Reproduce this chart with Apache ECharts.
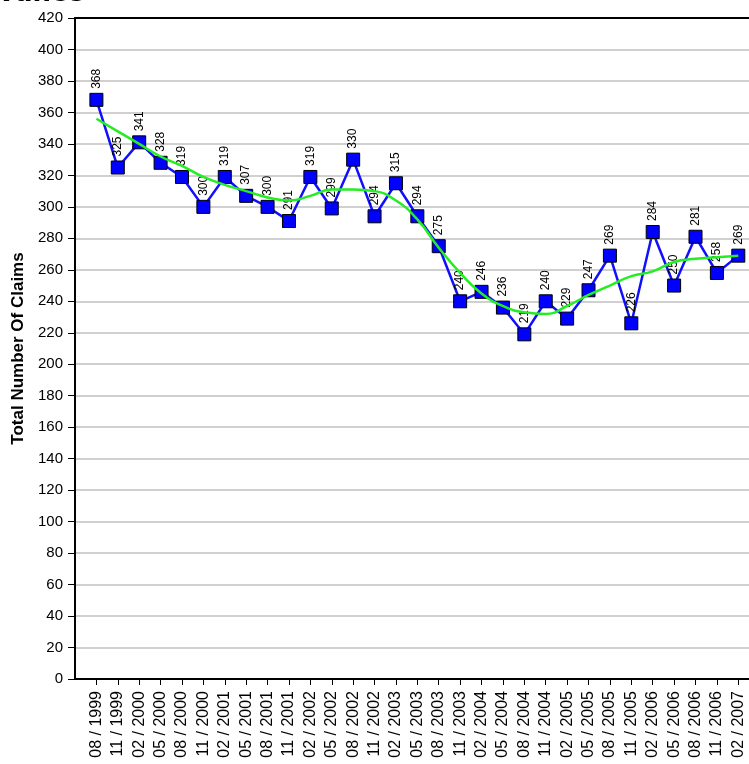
<!DOCTYPE html>
<html>
<head>
<meta charset="utf-8">
<script src="https://cdn.jsdelivr.net/npm/echarts@6/dist/echarts.min.js"></script>
<style>html,body{margin:0;padding:0;background:#fff}#c{width:749px;height:764px}</style>
</head>
<body>
<div id="c"></div>
<script>
var categories = ['08 / 1999','11 / 1999','02 / 2000','05 / 2000','08 / 2000','11 / 2000','02 / 2001','05 / 2001','08 / 2001','11 / 2001','02 / 2002','05 / 2002','08 / 2002','11 / 2002','02 / 2003','05 / 2003','08 / 2003','11 / 2003','02 / 2004','05 / 2004','08 / 2004','11 / 2004','02 / 2005','05 / 2005','08 / 2005','11 / 2005','02 / 2006','05 / 2006','08 / 2006','11 / 2006','02 / 2007'];
var claims = [368,325,341,328,319,300,319,307,300,291,319,299,330,294,315,294,275,240,246,236,219,240,229,247,269,226,284,250,281,258,269];
var trend = [356,348,340,332,326,319,314,310,306,304,307,311,311,310,304,292,274,258,245,237,233,232,237,244,250,256,259,265,267,268,269];
var titleText = 'vance';
var yAxisTitle = 'Total Number Of Claims';

var idx = categories.map(function(_, i){ return i; });
var chart = echarts.init(document.getElementById('c'), null, {renderer:'canvas'});
var font = 'Arial, "Liberation Sans", sans-serif';
chart.setOption({
  animation: false,
  backgroundColor: '#fff',
  title: {
    text: titleText, left: -2, top: -19, padding: 0,
    textStyle: {fontFamily: 'Verdana, "DejaVu Sans", sans-serif', fontWeight: 'bold', fontSize: 26, color: '#000'}
  },
  grid: {left: 75, right: 0, top: 18, bottom: 85, containLabel: false},
  xAxis: [{
    type: 'value', min: -1, max: 30.5, position: 'bottom',
    axisLine: {show: true, onZero: false, lineStyle: {color: '#000', width: 2}},
    axisTick: {show: true, length: 6, customValues: idx, lineStyle: {color: '#000', width: 1}},
    axisLabel: {
      show: true, rotate: 90, margin: 12, customValues: idx,
      fontFamily: font, fontSize: 16, color: '#000',
      formatter: function(v){ return categories[v] || ''; }
    },
    splitLine: {show: false}
  }, {
    type: 'value', min: -1, max: 30.5, position: 'top',
    axisLine: {show: true, onZero: false, lineStyle: {color: '#000', width: 2}},
    axisTick: {show: false}, axisLabel: {show: false}, splitLine: {show: false}
  }],
  yAxis: {
    type: 'value', min: 0, max: 420, interval: 20,
    name: yAxisTitle, nameLocation: 'middle', nameGap: 48,
    nameTextStyle: {fontFamily: font, fontWeight: 'bold', fontSize: 17, color: '#000'},
    axisLine: {show: true, onZero: false, lineStyle: {color: '#000', width: 2}},
    axisTick: {show: true, length: 7, lineStyle: {color: '#000', width: 1}},
    axisLabel: {fontFamily: font, fontSize: 15, color: '#000', margin: 12},
    splitLine: {show: true, lineStyle: {color: '#d0d0d0', width: 2}}
  },
  series: [{
    type: 'line', name: 'Claims',
    data: claims.map(function(v, i){ return [i, v]; }),
    lineStyle: {color: '#1010ff', width: 2.5},
    symbol: 'rect', symbolSize: 13,
    itemStyle: {color: '#0000ff', borderColor: '#000', borderWidth: 1},
    label: {
      show: true, position: 'top', distance: 4, rotate: 90, align: 'left', verticalAlign: 'middle',
      fontFamily: font, fontSize: 12, color: '#000'
    },
    z: 2
  }, {
    type: 'line', name: 'Trend',
    data: trend.map(function(v, i){ return [i, v]; }),
    smooth: true, showSymbol: false, symbol: 'none',
    lineStyle: {color: '#22ee22', width: 2.5},
    z: 3
  }]
});
</script>
</body>
</html>
